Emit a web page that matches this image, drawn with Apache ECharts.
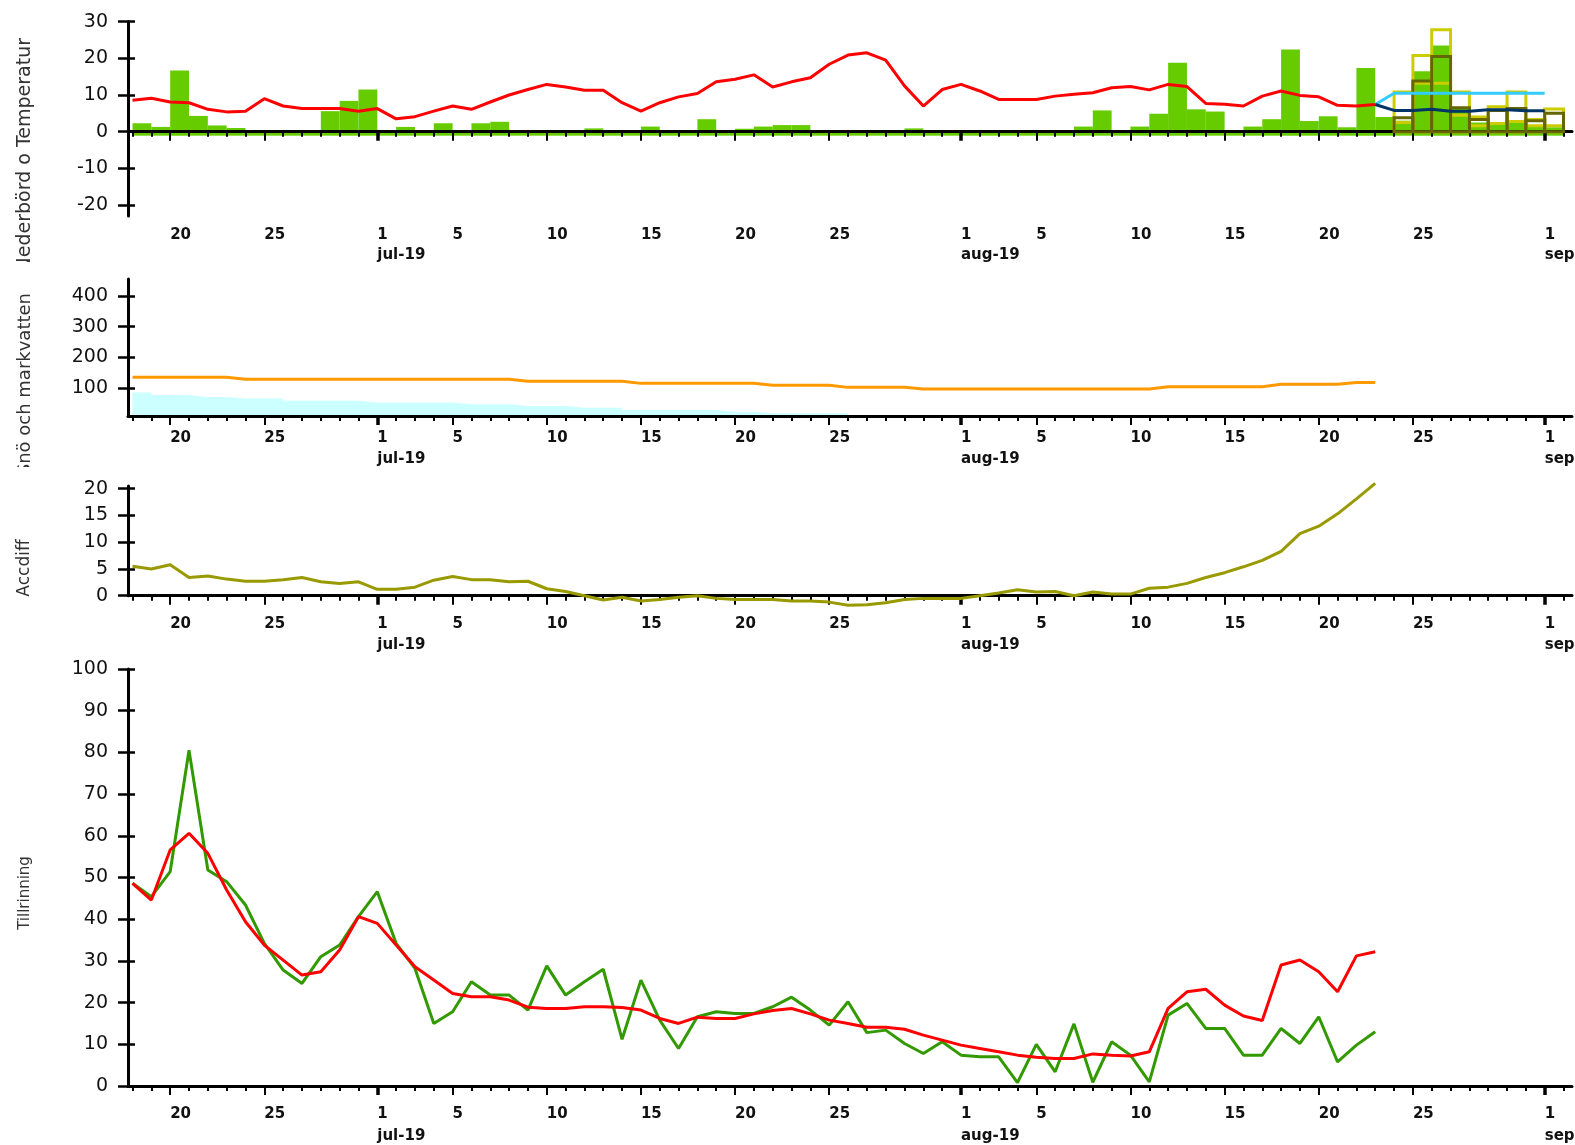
<!DOCTYPE html>
<html>
<head>
<meta charset="utf-8">
<script src="https://cdn.jsdelivr.net/npm/echarts@6/dist/echarts.min.js"></script>
<style>
  html, body { margin: 0; padding: 0; background: #fff; width: 1575px; height: 1145px; overflow: hidden; }
  .panel { position: absolute; left: 0; width: 1575px; overflow: hidden; }
</style>
</head>
<body>
<div id="p1" class="panel" style="top:0;height:262px"></div>
<div id="p2" class="panel" style="top:262px;height:205px"></div>
<div id="p3" class="panel" style="top:467px;height:193px"></div>
<div id="p4" class="panel" style="top:660px;height:485px"></div>
<script>
// Day index 0 = 18 jun 2019; every series value below is one value per day.
const labelDays = [2, 7, 13, 17, 22, 27, 32, 37, 44, 48, 53, 58, 63, 68, 75];
const labelText = ['20', '25', '1\njul-19', '5', '10', '15', '20', '25', '1\naug-19', '5', '10', '15', '20', '25', '1\nsep-19'];
const monthDays = [13, 44, 75];
const dayCount = 77;

// Nederbörd (mm/dygn) och temperatur (°C), 18 jun – 23 aug
const precipObserved = [
  2.3, 1.3, 16.7, 4.3, 1.7, 1.0, 0, 0, 0, 0,
  5.6, 8.4, 11.5, 0, 1.3, 0, 2.3, 0, 2.3, 2.7,
  0, 0, 0, 0, 0.9, 0, 0, 1.4, 0, 0,
  3.4, 0, 0.8, 1.4, 1.8, 1.8, 0, 0, 0, 0,
  0, 0.9, 0, 0, 0, 0, 0, 0, 0, 0,
  1.4, 5.8, 0.3, 1.4, 4.9, 18.8, 6.1, 5.5, 0, 1.4,
  3.4, 22.4, 2.9, 4.2, 1.2, 17.4, 4.0
];
const temperature = [
  8.6, 9.1, 8.1, 7.9, 6.1, 5.4, 5.6, 9.0, 7.0, 6.3,
  6.3, 6.3, 5.6, 6.3, 3.5, 4.1, 5.6, 7.0, 6.1, 8.1,
  10.0, 11.5, 12.9, 12.2, 11.3, 11.3, 7.9, 5.6, 7.9, 9.5,
  10.4, 13.6, 14.3, 15.5, 12.2, 13.6, 14.7, 18.4, 20.9, 21.5,
  19.5, 12.5, 7.0, 11.5, 12.9, 11.1, 8.8, 8.8, 8.8, 9.7,
  10.2, 10.6, 12.0, 12.3, 11.4, 12.9, 12.3, 7.7, 7.5, 7.0,
  9.7, 11.1, 9.9, 9.5, 7.2, 7.0, 7.4
];

// Prognos 24 aug – 1 sep
const forecastStart = 67;
const precipForecast = [3.0, 16.5, 23.5, 6.3, 2.5, 2.0, 3.0, 1.5, 1.2];
const precipForecastMax = [10.8, 20.8, 27.8, 10.8, 4.0, 6.8, 10.8, 3.3, 6.2];
const precipForecastMedian = [3.8, 13.8, 20.5, 6.5, 3.3, 5.8, 6.3, 3.0, 5.0];
const precipForecastMin = [2.5, 13.2, 13.2, 4.5, 1.6, 2.2, 2.8, 1.6, 1.6];
// temperature forecast, starting from the last observed day (23 aug)
const tempForecastHigh = [7.4, 10.5, 10.5, 10.5, 10.5, 10.5, 10.5, 10.5, 10.5, 10.5];
const tempForecastLow = [7.4, 5.8, 5.8, 6.1, 5.6, 5.6, 6.0, 6.0, 5.7, 5.7];

// Snö och markvatten (mm)
const soilWater = [
  136, 136, 136, 136, 136, 136,
  129, 129, 129, 129, 129, 129, 129, 129, 129, 129, 129, 129, 129, 129, 129,
  123, 123, 123, 123, 123, 123,
  116, 116, 116, 116, 116, 116, 116,
  110, 110, 110, 110,
  103, 103, 103, 103,
  98, 98, 98, 98, 98, 98, 98, 98, 98, 98, 98, 98, 98,
  105, 105, 105, 105, 105, 105,
  113, 113, 113, 113,
  119, 119
];
const storage = [
  86, 78, 78, 72, 72, 67, 67, 67, 59.5, 59.5,
  59.5, 59.5, 54, 54, 54, 54, 54, 48, 48, 48,
  42.5, 42.5, 42.5, 37, 37, 37, 29.5, 29.5, 29.5, 29.5,
  29.5, 24, 24, 19, 19, 19, 19, 19, 0
];

// Accdiff
const accdiff = [
  5.5, 5.0, 5.8, 3.4, 3.7, 3.1, 2.7, 2.7, 3.0, 3.4,
  2.6, 2.3, 2.6, 1.2, 1.2, 1.6, 2.9, 3.6, 3.0, 3.0,
  2.6, 2.7, 1.3, 0.8, 0.0, -0.8, -0.3, -1.0, -0.7, -0.3,
  0.0, -0.5, -0.7, -0.7, -0.7, -1.0, -1.0, -1.2, -1.8, -1.7,
  -1.3, -0.7, -0.5, -0.5, -0.5, 0.0, 0.5, 1.1, 0.7, 0.8,
  0.0, 0.7, 0.3, 0.3, 1.4, 1.6, 2.3, 3.4, 4.3, 5.4,
  6.6, 8.3, 11.6, 13.0, 15.3, 18.1, 21.0
];

// Tillrinning (m3/s): observerad och simulerad
const inflowObserved = [
  48.6, 45.4, 51.4, 80.5, 51.8, 49.0, 43.4, 34.2, 27.8, 24.6,
  31.0, 33.8, 40.6, 46.6, 34.2, 28.2, 15.0, 17.8, 25.0, 21.8,
  21.8, 18.2, 28.8, 21.8, 25.0, 28.0, 11.2, 25.4, 15.8, 9.0,
  16.6, 17.8, 17.4, 17.4, 19.0, 21.3, 18.2, 14.6, 20.2, 12.8,
  13.4, 10.2, 7.8, 10.6, 7.4, 7.0, 7.0, 0.8, 10.0, 3.4,
  14.9, 0.9, 10.6, 7.4, 1.0, 17.0, 19.8, 13.8, 13.8, 7.4,
  7.4, 13.8, 10.2, 16.6, 5.8, 9.8, 13.0
];
const inflowSimulated = [
  48.6, 44.6, 56.6, 60.6, 55.8, 47.0, 39.4, 33.8, 30.2, 26.6,
  27.4, 32.6, 40.6, 39.0, 33.8, 28.6, 25.4, 22.2, 21.4, 21.4,
  20.6, 18.9, 18.6, 18.6, 19.0, 19.0, 18.8, 18.2, 16.2, 15.0,
  16.5, 16.2, 16.2, 17.3, 18.1, 18.6, 17.3, 15.8, 15.0, 14.1,
  14.1, 13.6, 12.2, 11.0, 9.8, 9.0, 8.2, 7.4, 6.9, 6.6,
  6.6, 7.7, 7.4, 7.2, 8.2, 18.6, 22.6, 23.2, 19.4, 16.8,
  15.7, 29.0, 30.2, 27.4, 22.6, 31.2, 32.2
];

// ---------- shared helpers ----------
const FONT = '"DejaVu Sans", sans-serif';
const X_MIN = -0.24, X_MAX = 76.45;
const dayTicks = Array.from({ length: dayCount }, (_, i) => i);
const majorTicks = labelDays.filter(d => monthDays.indexOf(d) < 0);

const pairs = (arr, offset) => arr.map((v, i) => [i + (offset || 0), v]);

function xAxes(labelMargin, lineHeight) {
  const base = {
    type: 'value', min: X_MIN, max: X_MAX, position: 'bottom',
    splitLine: { show: false }, axisLabel: { show: false }
  };
  return [
    Object.assign({}, base, {
      z: 3,
      axisLine: { show: true, onZeroAxisIndex: 0, lineStyle: { color: '#000', width: 3 } },
      axisTick: { show: true, customValues: dayTicks, length: 5, lineStyle: { color: '#000', width: 2 } }
    }),
    Object.assign({}, base, {
      z: 3,
      axisLine: { show: false, onZeroAxisIndex: 1 },
      axisTick: { show: true, customValues: majorTicks, length: 9, lineStyle: { color: '#000', width: 2 } }
    }),
    Object.assign({}, base, {
      z: 3,
      axisLine: { show: false, onZeroAxisIndex: 2 },
      axisTick: { show: true, customValues: monthDays, length: 9, lineStyle: { color: '#000', width: 3.5 } }
    }),
    Object.assign({}, base, {
      axisLine: { show: false, onZero: false },
      axisTick: { show: false },
      axisLabel: {
        show: true, customValues: labelDays,
        formatter: v => labelText[labelDays.indexOf(v)],
        align: 'left', margin: labelMargin, color: '#111',
        fontFamily: FONT, fontSize: 15, fontWeight: 'bold', lineHeight: lineHeight
      }
    })
  ];
}

function yAxes(min, max, values) {
  const base = {
    type: 'value', min: min, max: max, position: 'left',
    splitLine: { show: false },
    axisLine: { show: false, onZero: false },
    axisLabel: { show: false }, axisTick: { show: false }
  };
  return [
    Object.assign({}, base, {
      axisLine: { show: true, onZero: false, lineStyle: { color: '#000', width: 3 } },
      axisTick: { show: true, customValues: values, length: 10, lineStyle: { color: '#000', width: 2.5 } },
      axisLabel: { show: true, customValues: values, margin: 20, color: '#111', fontFamily: FONT, fontSize: 19 }
    }),
    Object.assign({}, base, {
      axisTick: { show: true, inside: true, customValues: values, length: 7, lineStyle: { color: '#000', width: 2.5 } }
    }),
    Object.assign({}, base)
  ];
}

function grid(top, height) {
  return { left: 128, right: 3, top: top, height: height, outerBoundsMode: 'none', containLabel: false };
}

function axisName(text, x, y, align, size) {
  return {
    type: 'text', x: x, y: y, rotation: Math.PI / 2,
    style: {
      text: text, fill: '#333', font: size + 'px ' + FONT,
      align: align, textAlign: align, verticalAlign: 'middle', textVerticalAlign: 'middle'
    }
  };
}

// daily column from day d to d+1; `below` extends the column a little under the base line
function filledBar(color, below) {
  return function (params, api) {
    const d = api.value(0), v = api.value(1);
    const a = api.coord([d, 0]), b = api.coord([d + 1, v]);
    return {
      type: 'rect',
      shape: { x: a[0], y: b[1], width: b[0] - a[0], height: a[1] - b[1] + below },
      style: { fill: color }
    };
  };
}
function outlineBar(color) {
  return function (params, api) {
    const d = api.value(0), v = api.value(1);
    const a = api.coord([d, 0]), b = api.coord([d + 1, v]);
    return {
      type: 'rect',
      shape: { x: a[0], y: b[1], width: b[0] - a[0], height: a[1] - b[1] },
      style: { fill: 'none', stroke: color, lineWidth: 3 }
    };
  };
}
function customBars(data, renderItem, z) {
  return { type: 'custom', data: data, renderItem: renderItem, encode: { x: 0, y: 1 }, z: z, silent: true };
}
function line(data, color, z, extra) {
  return Object.assign({
    type: 'line', data: data, symbol: 'none', showSymbol: false,
    lineStyle: { color: color, width: 3 }, z: z, silent: true
  }, extra || {});
}

// ---------- panel 1: Nederbörd o Temperatur ----------
const c1 = echarts.init(document.getElementById('p1'), null, { renderer: 'canvas' });
c1.setOption({
  animation: false,
  grid: grid(21.7, 194.3),
  xAxis: xAxes(9, 20),
  yAxis: yAxes(-23, 30, [-20, -10, 0, 10, 20, 30]),
  graphic: [axisName('Nederbörd o Temperatur', 25, 38, 'right', 19)],
  series: [
    customBars(pairs(precipObserved), filledBar('#66cc00', 4), 2),
    customBars(pairs(precipForecast, forecastStart), filledBar('#66cc00', 4), 2),
    customBars(pairs(precipForecastMin, forecastStart), outlineBar('#cccc00'), 3),
    customBars(pairs(precipForecastMax, forecastStart), outlineBar('#cccc00'), 3),
    customBars(pairs(precipForecastMedian, forecastStart), outlineBar('#666600'), 4),
    line(pairs(temperature), '#ff0000', 6),
    line(pairs(tempForecastHigh, forecastStart - 1), '#33ccff', 6),
    line(pairs(tempForecastLow, forecastStart - 1), '#003366', 7)
  ]
});

// ---------- panel 2: Snö och markvatten ----------
const c2 = echarts.init(document.getElementById('p2'), null, { renderer: 'canvas' });
c2.setOption({
  animation: false,
  grid: grid(17, 137),
  xAxis: xAxes(12, 21),
  yAxis: yAxes(10, 455, [100, 200, 300, 400]),
  graphic: [axisName('Snö och markvatten', 25, 31, 'right', 18)],
  series: [
    line(pairs(storage), '#ccffff', 2, {
      step: 'end',
      lineStyle: { width: 0, opacity: 0 },
      areaStyle: { color: '#ccffff', opacity: 1, origin: 'start' }
    }),
    line(pairs(soilWater), '#ff9900', 4)
  ]
});

// ---------- panel 3: Accdiff ----------
const c3 = echarts.init(document.getElementById('p3'), null, { renderer: 'canvas' });
c3.setOption({
  animation: false,
  grid: grid(19, 109.7),
  xAxis: xAxes(18, 21),
  yAxis: yAxes(0, 20.5, [0, 5, 10, 15, 20]),
  graphic: [axisName('Accdiff', 25, 101, 'center', 17)],
  series: [
    line(pairs(accdiff), '#999900', 4, { clip: false })
  ]
});

// ---------- panel 4: Tillrinning ----------
const c4 = echarts.init(document.getElementById('p4'), null, { renderer: 'canvas' });
c4.setOption({
  animation: false,
  grid: grid(9, 417),
  xAxis: xAxes(17, 22),
  yAxis: yAxes(0, 100, [0, 10, 20, 30, 40, 50, 60, 70, 80, 90, 100]),
  graphic: [axisName('Tillrinning', 25, 233, 'center', 15)],
  series: [
    line(pairs(inflowObserved), '#339900', 4),
    line(pairs(inflowSimulated), '#ff0000', 5)
  ]
});
</script>
</body>
</html>
